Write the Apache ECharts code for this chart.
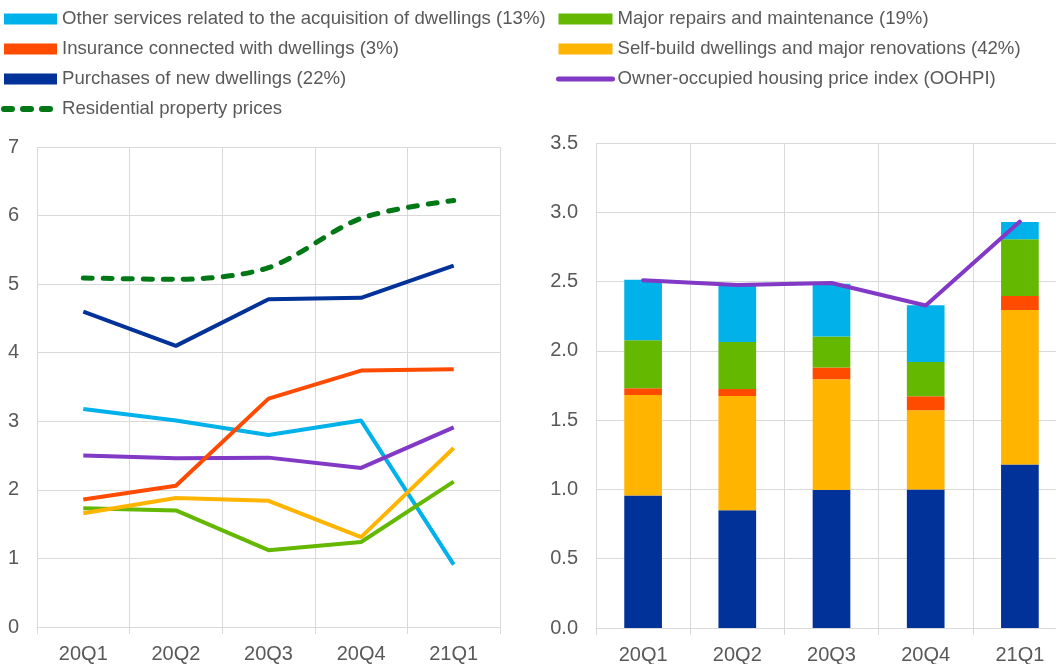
<!DOCTYPE html>
<html>
<head>
<meta charset="utf-8">
<script src="https://cdn.jsdelivr.net/npm/echarts@6/dist/echarts.min.js"></script>
<style>
  html, body { margin: 0; padding: 0; background: #fff; }
  #chart { width: 1056px; height: 664px; }
</style>
</head>
<body>
<div id="chart"></div>
<script>
var quarters = ['20Q1', '20Q2', '20Q3', '20Q4', '21Q1'];

// left panel: annual growth rates
var otherServices = [3.18, 3.01, 2.80, 3.01, 0.91];
var insurance = [1.86, 2.06, 3.33, 3.74, 3.76];
var purchasesNew = [4.60, 4.10, 4.78, 4.80, 5.27];
var repairs = [1.73, 1.70, 1.12, 1.24, 2.12];
var selfBuild = [1.66, 1.88, 1.84, 1.31, 2.61];
var oohpi = [2.50, 2.46, 2.47, 2.32, 2.91];
var residential = [5.09, 5.07, 5.24, 5.96, 6.22];

// right panel: contributions
var cPurchasesNew = [0.956, 0.85, 0.996, 1.0, 1.18];
var cSelfBuild = [0.725, 0.824, 0.80, 0.572, 1.115];
var cInsurance = [0.05, 0.05, 0.084, 0.10, 0.10];
var cRepairs = [0.345, 0.34, 0.224, 0.247, 0.41];
var cOtherServices = [0.437, 0.414, 0.38, 0.41, 0.125];
var cOohpi = [2.51, 2.475, 2.49, 2.327, 2.933];

var names = {
  other: 'Other services related to the acquisition of dwellings (13%)',
  ins: 'Insurance connected with dwellings (3%)',
  pur: 'Purchases of new dwellings (22%)',
  res: 'Residential property prices',
  rep: 'Major repairs and maintenance (19%)',
  self: 'Self-build dwellings and major renovations (42%)',
  oohpi: 'Owner-occupied housing price index (OOHPI)'
};

var colors = {
  other: '#00b1ea',
  ins: '#ff4b00',
  pur: '#003299',
  res: '#007816',
  rep: '#65b800',
  self: '#ffb400',
  oohpi: '#8139c6'
};

var font = "'Liberation Sans', Arial, sans-serif";
var textColor = '#595959';
var gridColor = '#d9d9d9';

var chart = echarts.init(document.getElementById('chart'));

function xAxisCfg(gridIndex) {
  return {
    type: 'category',
    gridIndex: gridIndex,
    data: quarters,
    axisLine: { lineStyle: { color: gridColor, width: 1 } },
    axisTick: { show: true, length: 7, lineStyle: { color: gridColor } },
    axisLabel: { color: textColor, fontSize: 20, fontFamily: font, margin: 17 },
    splitLine: { show: true, lineStyle: { color: gridColor, width: 1 } }
  };
}

function barSeries(key, data) {
  return {
    name: names[key],
    type: 'bar',
    stack: 'c',
    xAxisIndex: 1,
    yAxisIndex: 1,
    barWidth: '40%',
    itemStyle: { color: colors[key] },
    data: data
  };
}

function lineSeries(key, data) {
  return {
    name: names[key],
    type: 'line',
    xAxisIndex: 0,
    yAxisIndex: 0,
    symbol: 'none',
    lineStyle: { color: colors[key], width: 4 },
    itemStyle: { color: colors[key] },
    data: data
  };
}

var legendText = { color: textColor, fontSize: 18.6, fontFamily: font, lineHeight: 22 };
var noSymbol = { color: 'transparent', borderWidth: 0 };

var option = {
  animation: false,
  legend: [
    {
      orient: 'vertical',
      left: 1,
      top: 8,
      padding: 0,
      itemWidth: 53,
      itemHeight: 11,
      itemGap: 8,
      textStyle: legendText,
      data: [
        { name: names.other, icon: 'rect' },
        { name: names.ins, icon: 'rect' },
        { name: names.pur, icon: 'rect' },
        {
          name: names.res,
          itemStyle: noSymbol,
          lineStyle: { width: 6, type: [8, 11], cap: 'round', color: colors.res }
        }
      ]
    },
    {
      orient: 'vertical',
      left: 556,
      top: 8,
      padding: 0,
      itemWidth: 54,
      itemHeight: 11,
      itemGap: 8,
      textStyle: legendText,
      data: [
        { name: names.rep, icon: 'rect' },
        { name: names.self, icon: 'rect' },
        {
          name: names.oohpi,
          itemStyle: noSymbol,
          lineStyle: { width: 5, cap: 'round', color: colors.oohpi }
        }
      ]
    }
  ],
  grid: [
    { left: 37, right: 556, top: 147, bottom: 37, outerBoundsMode: 'none', containLabel: false },
    { left: 596, width: 471, top: 143, bottom: 36, outerBoundsMode: 'none', containLabel: false }
  ],
  xAxis: [xAxisCfg(0), xAxisCfg(1)],
  yAxis: [
    {
      type: 'value',
      gridIndex: 0,
      min: 0,
      max: 7,
      interval: 1,
      axisLine: { show: false },
      axisTick: { show: false },
      axisLabel: { color: textColor, fontSize: 20, fontFamily: font, margin: 18 },
      splitLine: { lineStyle: { color: gridColor, width: 1 } }
    },
    {
      type: 'value',
      gridIndex: 1,
      min: 0,
      max: 3.5,
      interval: 0.5,
      axisLine: { show: false },
      axisTick: { show: false },
      axisLabel: {
        color: textColor, fontSize: 20, fontFamily: font, margin: 18,
        formatter: function (v) { return v.toFixed(1); }
      },
      splitLine: { lineStyle: { color: gridColor, width: 1 } }
    }
  ],
  series: [
    barSeries('pur', cPurchasesNew),
    barSeries('self', cSelfBuild),
    barSeries('ins', cInsurance),
    barSeries('rep', cRepairs),
    barSeries('other', cOtherServices),
    {
      name: names.oohpi,
      type: 'line',
      xAxisIndex: 1,
      yAxisIndex: 1,
      symbol: 'none',
      z: 5,
      lineStyle: { color: colors.oohpi, width: 4, cap: 'round' },
      itemStyle: { color: colors.oohpi },
      data: cOohpi
    },
    lineSeries('other', otherServices),
    lineSeries('rep', repairs),
    lineSeries('self', selfBuild),
    lineSeries('oohpi', oohpi),
    lineSeries('ins', insurance),
    lineSeries('pur', purchasesNew),
    {
      name: names.res,
      type: 'line',
      xAxisIndex: 0,
      yAxisIndex: 0,
      symbol: 'none',
      smooth: 0.3,
      lineStyle: { color: colors.res, width: 5, type: [9, 11], cap: 'round' },
      itemStyle: { color: colors.res },
      data: residential
    }
  ]
};

chart.setOption(option);
</script>
</body>
</html>
